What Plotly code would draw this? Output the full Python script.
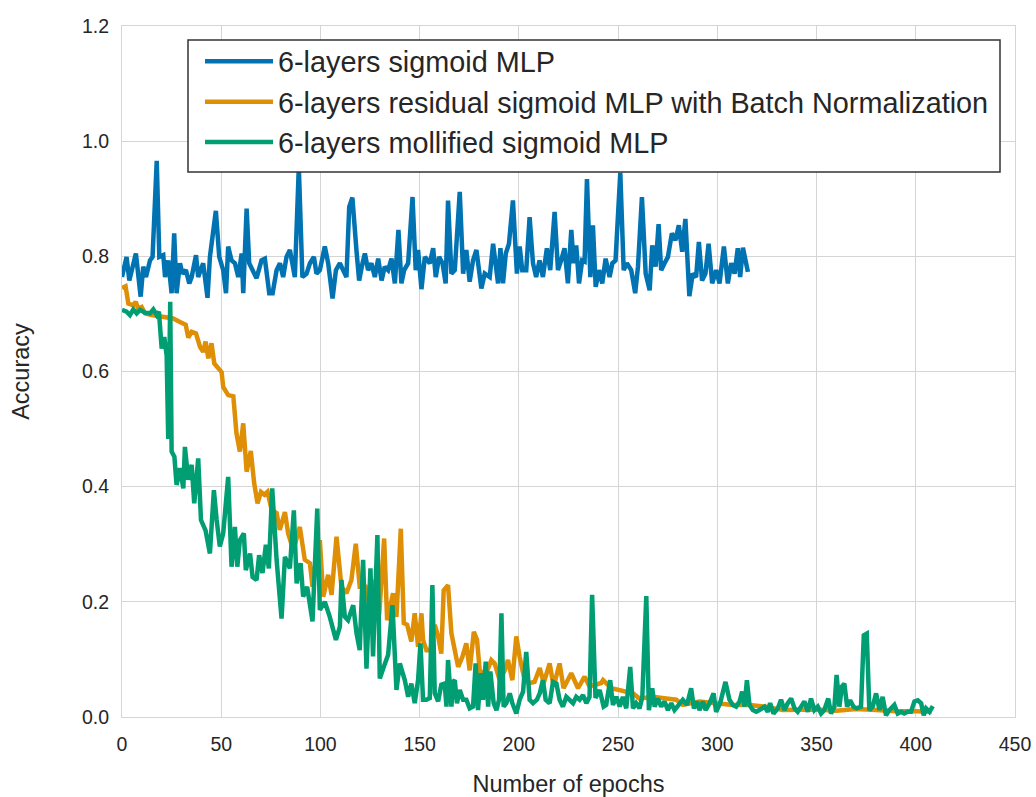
import plotly.graph_objects as go

# ---------------- data ----------------
blue_epoch = [0, 2.3, 3.7, 4.9, 7.0, 9.4, 10.7, 12.1, 14.1, 15.4, 17.5, 18.8, 20.8, 21.7, 23.3, 25.0, 26.3, 27.5,
              29.2, 30.5, 32.2, 33.9, 35.1, 37.3, 38.4, 40.9, 43.1, 44.3, 47.3, 49.0, 51.0, 52.4, 53.5, 55.2,
              56.9, 58.6, 60.3, 61.1, 62.8, 64.1, 65.8, 67.8, 70.3, 72.0, 74.2, 75.9, 77.9, 79.6, 81.2, 82.9,
              84.6, 87.1, 89.1, 90.9, 93.0, 94.7, 96.7, 98.0, 99.7, 102.2, 103.9, 106.1, 107.8, 109.8, 111.4,
              113.1, 114.5, 116.1, 118.2, 119.5, 121.2, 122.4, 124.0, 125.7, 127.4, 129.1, 130.8, 132.4, 134.1,
              135.8, 137.5, 139.3, 140.8, 142.2, 144.2, 146.4, 148.0, 149.2, 150.9, 152.6, 155.1, 156.8, 158.1,
              159.8, 161.5, 163.1, 164.3, 166.0, 167.7, 170.2, 171.9, 173.5, 175.2, 176.9, 178.6, 181.1, 182.8,
              185.3, 187.0, 188.3, 189.5, 190.7, 192.0, 193.4, 195.0, 197.0, 199.0, 200.4, 201.7, 203.7, 205.4,
              207.1, 208.7, 210.4, 212.1, 214.1, 215.8, 218.0, 219.7, 221.3, 223.0, 224.7, 226.4, 227.6, 228.9,
              230.3, 231.9, 233.1, 234.3, 236.0, 237.3, 238.7, 240.4, 242.0, 243.7, 245.7, 247.1, 248.7, 251.1,
              252.8, 254.4, 256.6, 258.6, 260.0, 262.0, 263.9, 265.9, 267.2, 268.9, 270.4, 271.7, 273.4, 275.1,
              277.1, 278.9, 280.6, 282.3, 283.9, 285.9, 287.6, 289.3, 290.7, 292.3, 294.0, 295.6, 297.4, 299.4,
              301.1, 303.3, 305.3, 307.0, 308.7, 310.3, 311.5, 312.9, 314.5, 315.4]
blue_acc = [0.764, 0.799, 0.758, 0.776, 0.805, 0.730, 0.782, 0.764, 0.793, 0.799, 0.966, 0.799, 0.802, 0.764, 0.793,
            0.736, 0.840, 0.736, 0.788, 0.770, 0.776, 0.753, 0.764, 0.802, 0.764, 0.788, 0.728, 0.799, 0.879, 0.799,
            0.776, 0.736, 0.817, 0.793, 0.788, 0.764, 0.805, 0.736, 0.883, 0.788, 0.776, 0.762, 0.793, 0.796, 0.736,
            0.736, 0.776, 0.788, 0.764, 0.799, 0.811, 0.764, 0.955, 0.764, 0.770, 0.788, 0.799, 0.770, 0.776, 0.817,
            0.788, 0.727, 0.776, 0.788, 0.776, 0.764, 0.886, 0.902, 0.808, 0.758, 0.788, 0.805, 0.776, 0.788, 0.764,
            0.796, 0.758, 0.782, 0.776, 0.796, 0.753, 0.846, 0.753, 0.776, 0.788, 0.903, 0.776, 0.811, 0.743, 0.799,
            0.788, 0.814, 0.764, 0.799, 0.788, 0.753, 0.897, 0.770, 0.776, 0.912, 0.770, 0.811, 0.756, 0.793, 0.811,
            0.744, 0.770, 0.764, 0.822, 0.788, 0.753, 0.814, 0.753, 0.805, 0.822, 0.897, 0.770, 0.817, 0.776, 0.776,
            0.868, 0.788, 0.764, 0.793, 0.764, 0.814, 0.776, 0.877, 0.776, 0.793, 0.814, 0.753, 0.846, 0.788, 0.819,
            0.753, 0.793, 0.791, 0.934, 0.764, 0.854, 0.747, 0.776, 0.753, 0.796, 0.764, 0.788, 0.793, 0.945, 0.776,
            0.788, 0.776, 0.736, 0.782, 0.903, 0.770, 0.741, 0.819, 0.782, 0.856, 0.776, 0.788, 0.799, 0.840, 0.828,
            0.854, 0.808, 0.865, 0.731, 0.770, 0.764, 0.825, 0.758, 0.770, 0.822, 0.753, 0.776, 0.753, 0.817, 0.753,
            0.788, 0.770, 0.814, 0.764, 0.815, 0.788, 0.773]

orange_epoch = [0, 1.8, 3.2, 5.7, 6.9, 8.2, 9.9, 11.6, 14.9, 18.3, 21.6, 25.8, 29.2, 32.1, 33.4, 35.1, 37.3, 39.3,
                40.9, 42.1, 43.5, 45.1, 46.5, 48.5, 50.2, 51.0, 53.5, 56.1, 57.7, 59.4, 61.1, 62.8, 64.9, 66.6,
                68.3, 70.0, 71.7, 73.3, 75.4, 77.9, 79.5, 82.1, 83.7, 86.3, 89.6, 92.1, 94.7, 96.0, 97.7, 99.7,
                101.4, 103.9, 105.6, 108.1, 110.6, 113.1, 115.6, 117.8, 119.8, 122.8, 124.8, 127.4, 129.6, 132.1,
                133.6, 136.6, 138.3, 140.5, 142.0, 143.7, 145.8, 147.5, 149.2, 150.9, 151.7, 153.4, 155.4, 157.6,
                159.3, 160.9, 162.1, 164.3, 166.0, 167.7, 169.4, 171.5, 173.5, 175.2, 177.3, 178.9, 180.3, 183.6,
                186.1, 187.8, 190.3, 192.9, 194.5, 196.7, 198.7, 200.4, 202.9, 205.4, 207.9, 210.5, 212.5, 215.5,
                217.5, 220.5, 222.5, 226.4, 229.8, 233.1, 235.6, 241.5, 242.4, 246.6, 250.8, 257.5, 260.8, 267.5,
                274.3, 279.3, 282.6, 291.0, 299.4, 307.8, 316.2, 324.6, 333.0, 341.4, 350, 360, 370, 380, 390, 400, 408]
orange_acc = [0.745, 0.748, 0.718, 0.715, 0.721, 0.709, 0.712, 0.701, 0.698, 0.696, 0.695, 0.692, 0.686, 0.681, 0.659,
              0.669, 0.666, 0.643, 0.634, 0.652, 0.623, 0.649, 0.614, 0.607, 0.599, 0.573, 0.559, 0.557, 0.492, 0.461,
              0.510, 0.426, 0.462, 0.406, 0.371, 0.391, 0.386, 0.391, 0.360, 0.354, 0.325, 0.356, 0.319, 0.290, 0.330,
              0.273, 0.267, 0.226, 0.273, 0.307, 0.209, 0.247, 0.212, 0.313, 0.226, 0.215, 0.238, 0.301, 0.226, 0.226,
              0.191, 0.238, 0.177, 0.310, 0.168, 0.215, 0.174, 0.327, 0.163, 0.160, 0.131, 0.180, 0.122, 0.180, 0.134,
              0.116, 0.116, 0.160, 0.140, 0.110, 0.220, 0.229, 0.145, 0.116, 0.087, 0.104, 0.128, 0.081, 0.148, 0.134,
              0.079, 0.076, 0.099, 0.093, 0.064, 0.081, 0.099, 0.064, 0.140, 0.104, 0.064, 0.059, 0.061, 0.085, 0.059,
              0.093, 0.053, 0.093, 0.050, 0.076, 0.050, 0.070, 0.053, 0.059, 0.064, 0.050, 0.047, 0.041, 0.032, 0.035,
              0.032, 0.030, 0.021, 0.027, 0.024, 0.021, 0.021, 0.018, 0.012, 0.012, 0.013, 0.011, 0.014, 0.012, 0.010,
              0.010, 0.009]

green_epoch = [0, 2.3, 4.0, 5.7, 7.4, 9.1, 11.6, 14.1, 15.8, 17.5, 18.6, 20.0, 21.3, 22.5, 23.3, 24.3, 25.0, 26.4,
               27.5, 29.2, 30.9, 31.7, 33.4, 35.1, 36.4, 38.4, 39.8, 42.1, 44.3, 46.3, 47.7, 49.3, 51.0, 53.5, 55.2,
               56.9, 58.1, 59.4, 61.4, 62.4, 64.5, 65.8, 67.8, 69.1, 70.8, 72.5, 74.0, 75.7, 77.9, 80.4, 82.1, 84.6,
               86.6, 88.0, 90.0, 91.3, 93.3, 96.0, 98.4, 99.7, 102.2, 104.7, 107.8, 109.8, 110.6, 112.3, 113.9, 116.5,
               118.2, 119.8, 121.5, 123.2, 125.2, 126.5, 128.7, 129.9, 131.9, 134.1, 136.3, 138.3, 140.0, 142.5,
               144.2, 145.8, 147.5, 149.2, 150.4, 151.7, 153.4, 155.1, 156.4, 157.6, 159.3, 160.9, 162.6, 163.5,
               164.3, 166.0, 166.8, 167.7, 168.8, 170.2, 171.9, 173.5, 175.2, 176.9, 178.2, 179.4, 180.8, 181.9,
               183.3, 184.5, 185.6, 187.3, 188.7, 190.0, 191.2, 192.3, 193.7, 195.4, 196.7, 198.7, 200.4, 202.1,
               203.7, 205.4, 207.1, 209.1, 210.5, 212.1, 213.5, 215.5, 217.2, 218.9, 220.5, 222.2, 223.9, 225.6,
               227.3, 228.9, 230.6, 232.3, 234.0, 235.6, 236.9, 238.6, 240.7, 242.7, 244.0, 246.0, 247.4, 249.1,
               250.8, 252.4, 254.1, 256.1, 257.5, 259.1, 260.8, 262.2, 264.2, 265.5, 267.2, 268.4, 270.0, 271.7,
               273.4, 275.1, 276.8, 278.4, 280.6, 282.6, 284.7, 286.8, 288.2, 289.7, 291.0, 292.7, 294.1, 296.1,
               298.1, 299.4, 301.4, 304.1, 306.1, 307.8, 309.5, 311.2, 312.5, 313.7, 314.9, 316.2, 317.9, 319.6,
               321.2, 323.8, 325.4, 326.6, 328.3, 330.5, 332.1, 333.8, 335.5, 337.2, 338.9, 340.5, 342.2, 343.9,
               345.6, 347.2, 348.9, 350.6, 352.3, 353.9, 355.9, 357.3, 359.0, 360.1, 361.5, 362.8, 364.0, 365.4,
               366.9, 368.6, 370.2, 372.4, 373.8, 375.3, 376.6, 378.3, 380.0, 381.7, 383.3, 385.0, 386.7, 389.2,
               390.9, 392.6, 394.2, 395.9, 397.6, 399.3, 401.0, 402.7, 404.0, 405.2, 406.9, 408.6]
green_acc = [0.707, 0.704, 0.698, 0.708, 0.701, 0.707, 0.702, 0.701, 0.708, 0.698, 0.704, 0.640, 0.660, 0.628, 0.483,
             0.721, 0.461, 0.452, 0.403, 0.432, 0.397, 0.469, 0.412, 0.438, 0.371, 0.449, 0.342, 0.324, 0.284, 0.394,
             0.342, 0.296, 0.319, 0.417, 0.261, 0.330, 0.261, 0.307, 0.319, 0.255, 0.284, 0.243, 0.238, 0.281, 0.250,
             0.299, 0.258, 0.397, 0.273, 0.171, 0.278, 0.258, 0.359, 0.232, 0.267, 0.209, 0.226, 0.166, 0.362, 0.186,
             0.200, 0.174, 0.134, 0.157, 0.238, 0.174, 0.168, 0.194, 0.145, 0.116, 0.273, 0.084, 0.258, 0.105, 0.316,
             0.067, 0.087, 0.108, 0.194, 0.047, 0.093, 0.064, 0.035, 0.058, 0.024, 0.064, 0.128, 0.030, 0.030, 0.033,
             0.229, 0.041, 0.027, 0.056, 0.058, 0.018, 0.099, 0.018, 0.061, 0.064, 0.024, 0.047, 0.030, 0.030, 0.015,
             0.018, 0.093, 0.012, 0.076, 0.030, 0.096, 0.018, 0.079, 0.024, 0.012, 0.030, 0.180, 0.018, 0.024, 0.041,
             0.024, 0.006, 0.030, 0.044, 0.113, 0.030, 0.024, 0.030, 0.041, 0.064, 0.030, 0.024, 0.061, 0.058, 0.030,
             0.018, 0.035, 0.030, 0.024, 0.035, 0.030, 0.038, 0.024, 0.035, 0.212, 0.033, 0.047, 0.018, 0.021, 0.064,
             0.021, 0.035, 0.018, 0.035, 0.015, 0.087, 0.015, 0.024, 0.015, 0.035, 0.210, 0.012, 0.050, 0.018, 0.032,
             0.018, 0.027, 0.012, 0.024, 0.012, 0.021, 0.030, 0.021, 0.050, 0.015, 0.027, 0.012, 0.027, 0.012, 0.024,
             0.041, 0.009, 0.024, 0.061, 0.030, 0.021, 0.018, 0.027, 0.044, 0.018, 0.064, 0.021, 0.012, 0.009, 0.012,
             0.018, 0.009, 0.024, 0.006, 0.015, 0.030, 0.012, 0.024, 0.032, 0.015, 0.009, 0.018, 0.027, 0.009, 0.032,
             0.012, 0.018, 0.006, 0.012, 0.032, 0.006, 0.018, 0.073, 0.018, 0.053, 0.058, 0.018, 0.029, 0.018, 0.015,
             0.018, 0.142, 0.145, 0.012, 0.018, 0.041, 0.012, 0.035, 0.003, 0.012, 0.021, 0.006, 0.009, 0.006, 0.009,
             0.009, 0.027, 0.029, 0.024, 0.003, 0.015, 0.009, 0.019]

series_names = ["6-layers sigmoid MLP",
                "6-layers residual sigmoid MLP with Batch Normalization",
                "6-layers mollified sigmoid MLP"]
series_colors = ["#0173b2", "#de8f05", "#029e73"]

x_ticks = [0, 50, 100, 150, 200, 250, 300, 350, 400, 450]
y_ticks = [0.0, 0.2, 0.4, 0.6, 0.8, 1.0, 1.2]

# ---------------- figure ----------------
FONT = "Liberation Sans, Arial, sans-serif"
TXT = "#262626"
GRID = "#d5d5d5"

fig = go.Figure()
for i, (xs, ys) in enumerate([(blue_epoch, blue_acc), (orange_epoch, orange_acc), (green_epoch, green_acc)]):
    fig.add_trace(go.Scatter(x=xs, y=ys, mode="lines", name=series_names[i],
                             legendgroup=f"g{i}",
                             line=dict(color=series_colors[i], width=4.5, shape="linear")))

# legend frame (drawn as a shape so the entries can sit inside it with padding)
fig.add_shape(type="rect", xref="paper", yref="paper",
              x0=(188 - 122) / 893, x1=(1000 - 122) / 893,
              y0=(717 - 172) / 691, y1=(717 - 40) / 691,
              fillcolor="white", line=dict(color="#333333", width=1.5), layer="above")

fig.update_layout(
    width=1036, height=797,
    margin=dict(l=122, r=21, t=26, b=80),
    paper_bgcolor="white", plot_bgcolor="white",
    font=dict(family=FONT, color=TXT),
    showlegend=True,
    legend=dict(x=(200 - 122) / 893, y=(717 - 36) / 691, xanchor="left", yanchor="top",
                bgcolor="rgba(0,0,0,0)", borderwidth=0,
                font=dict(family=FONT, size=28.8, color=TXT),
                tracegroupgap=0, itemwidth=68),
)
fig.update_xaxes(range=[0, 450], tickvals=x_ticks, ticktext=[str(v) for v in x_ticks],
                 showgrid=True, gridcolor=GRID, gridwidth=1,
                 showline=True, linecolor=GRID, linewidth=1, mirror=True,
                 zeroline=False, ticks="", ticklabelstandoff=10, automargin=False,
                 tickfont=dict(family=FONT, size=19.5, color=TXT),
                 title=dict(text="Number of epochs", font=dict(family=FONT, size=23.5, color=TXT), standoff=26))
fig.update_yaxes(range=[0, 1.2], tickvals=y_ticks, ticktext=[f"{v:.1f}" for v in y_ticks],
                 showgrid=True, gridcolor=GRID, gridwidth=1,
                 showline=True, linecolor=GRID, linewidth=1, mirror=True,
                 zeroline=False, ticks="", ticklabelstandoff=8, automargin=False,
                 tickfont=dict(family=FONT, size=19.5, color=TXT),
                 title=dict(text="Accuracy", font=dict(family=FONT, size=23.5, color=TXT), standoff=45))

fig.write_html("out.html")
